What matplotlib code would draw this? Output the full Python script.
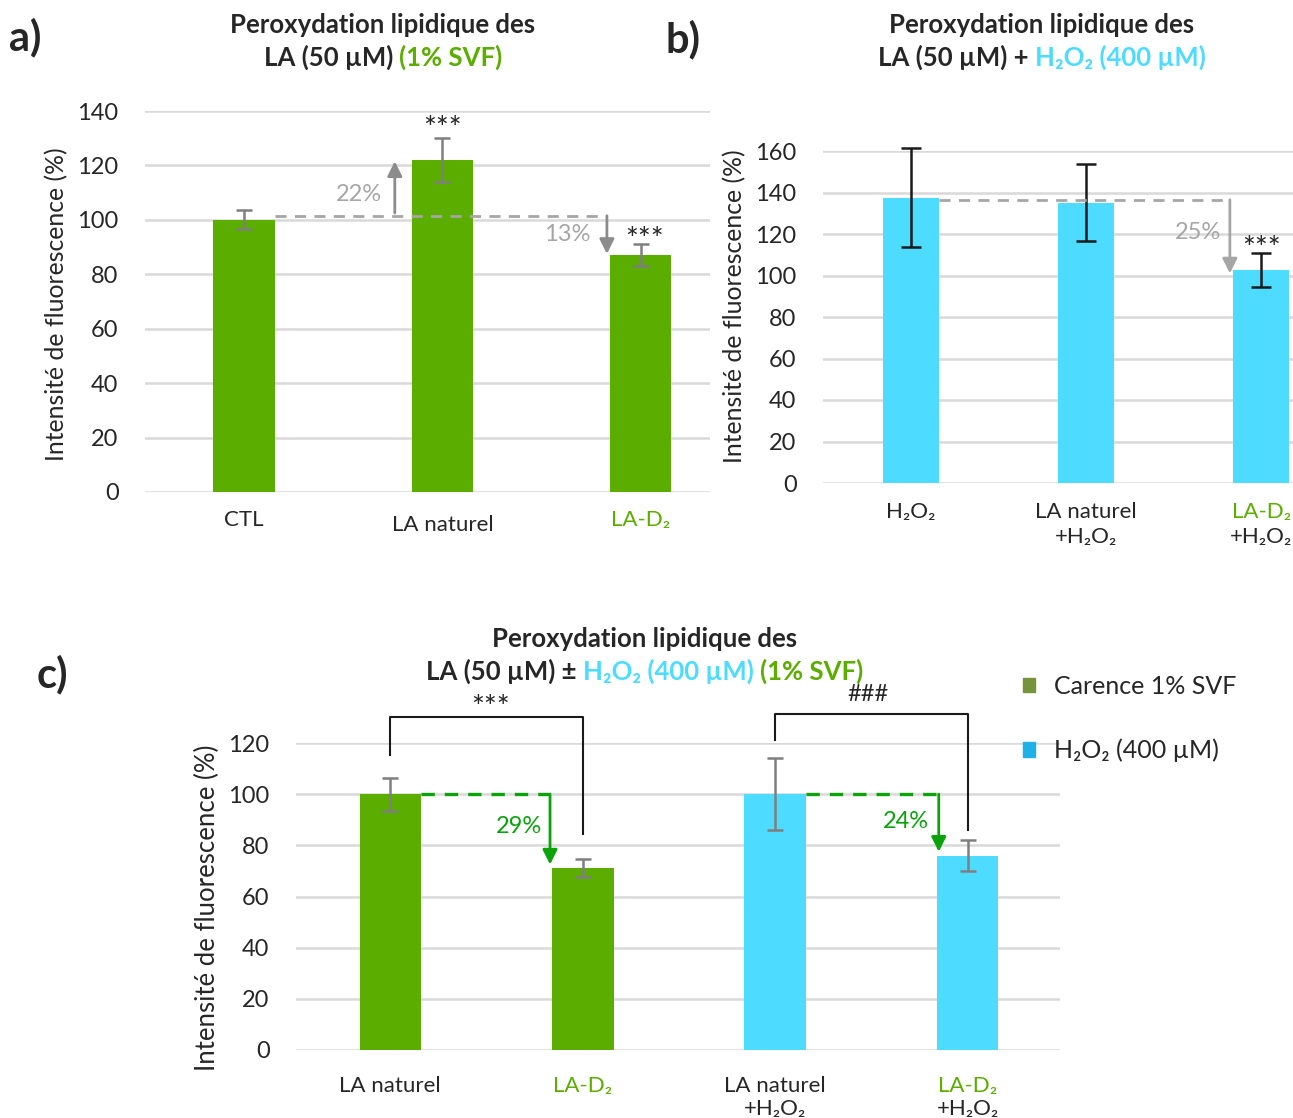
import matplotlib
matplotlib.use("Agg")
import matplotlib.pyplot as plt
from matplotlib.patches import Patch
import numpy as np

plt.rcParams['font.family'] = ['Lato', 'Noto Sans', 'DejaVu Sans']

# ---- data ----
a_labels = ["CTL", "LA naturel", "LA-D₂"]
a_values = [100, 122, 87]
a_errors = [3.5, 8, 4]

b_labels = ["H₂O₂", "LA naturel", "LA-D₂"]
b_labels2 = ["", "+H₂O₂", "+H₂O₂"]
b_values = [137.5, 135, 102.5]
b_errors = [24, 18.5, 8.2]

c_labels = ["LA naturel", "LA-D₂", "LA naturel", "LA-D₂"]
c_labels2 = ["", "", "+H₂O₂", "+H₂O₂"]
c_values = [100, 71, 100, 76]
c_errors = [6.5, 3.5, 14, 6]
c_series = ["Carence 1% SVF", "Carence 1% SVF", "H₂O₂ (400 µM)", "H₂O₂ (400 µM)"]

GREEN = '#5BAD00'
CYAN = '#4DDBFF'
DGREEN = '#0AA30A'
GRAY = '#A6A6A6'
GRID = '#D9D9D9'
TXT = '#262626'

W, H = 1293, 1118
fig = plt.figure(figsize=(W / 100, H / 100), dpi=100)


def ax_at(l, t, r, b):
    return fig.add_axes([l / W, 1 - b / H, (r - l) / W, (b - t) / H])


def style(ax, ymax, step, labels, colors, xpad, labels2=None, gap=30):
    ax.set_ylim(0, ymax)
    ax.set_yticks(np.arange(0, ymax + 1, step))
    ax.yaxis.grid(True, color=GRID, lw=1.8)
    ax.set_axisbelow(True)
    for s in ax.spines.values():
        s.set_visible(False)
    ax.tick_params(axis='y', length=0, pad=19, labelsize=17, labelcolor=TXT)
    ax.tick_params(axis='x', length=0, pad=xpad, labelsize=16, labelcolor=TXT)
    ax.set_xticks(range(len(labels)))
    ax.set_xticklabels(labels)
    for lab, c in zip(ax.get_xticklabels(), colors):
        lab.set_color(c)
    if labels2:
        for i, s in enumerate(labels2):
            ax.annotate(s, xy=(i, 0), xycoords=('data', 'axes fraction'),
                        xytext=(0, -(xpad + gap) * 0.72), textcoords='offset points',
                        ha='center', va='top', fontsize=16, color=TXT)


def title(xc, lines, size=18.5):
    fig.canvas.draw()
    r = fig.canvas.get_renderer()
    for y, parts in lines:
        ts = [fig.text(0, 1 - y / H, s, color=c, fontsize=size, fontweight='bold',
                       va='baseline', ha='left') for s, c in parts]
        ws = [t.get_window_extent(r).width for t in ts]
        x = xc - sum(ws) / 2
        for t, w in zip(ts, ws):
            t.set_x(x / W)
            x += w


def arrow(ax, x, y0, y1, color):
    ax.annotate('', xy=(x, y1), xytext=(x, y0),
                arrowprops=dict(arrowstyle='-|>', color=color, lw=2, mutation_scale=22,
                                shrinkA=0, shrinkB=0))


def errbars(ax, x, v, e, color, cap):
    eb = ax.errorbar(x, v, yerr=e, fmt='none', ecolor=color, elinewidth=1.8,
                     capsize=cap, capthick=1.8)
    for art in eb.lines[1] + eb.lines[2]:
        art.set_clip_on(False)


# ---- panel a ----
axa = ax_at(145, 111, 710, 492)
xa = np.arange(len(a_values))
axa.bar(xa, a_values, width=0.31, color=GREEN)
errbars(axa, xa, a_values, a_errors, '#7F7F7F', 6)
axa.set_xlim(-0.5, 2.35)
style(axa, 140, 20, a_labels, [TXT, TXT, GREEN], 13)
axa.get_xticklabels()[1].set_y(-0.012)
axa.plot([0.155, 1.83], [101.5, 101.5], color=GRAY, lw=2, dashes=(4, 3))
arrow(axa, 0.76, 102.5, 121.5, '#8C8C8C')
arrow(axa, 1.83, 101.5, 87.5, '#8C8C8C')
axa.text(0.58, 109.5, "22%", color=GRAY, fontsize=17, ha='center', va='center')
axa.text(1.63, 94.5, "13%", color=GRAY, fontsize=17, ha='center', va='center')
axa.text(1, 133.5, "***", color=TXT, fontsize=22, ha='center', va='center')
axa.text(2.02, 92.5, "***", color=TXT, fontsize=22, ha='center', va='center')
fig.text(57 / W, 1 - 304 / H, "Intensité de fluorescence (%)", rotation=90,
         ha='center', va='center', fontsize=17.8, color=TXT)

# ---- panel b ----
axb = ax_at(823, 151, 1293, 483)
xb = np.arange(len(b_values))
axb.bar(xb, b_values, width=0.32, color=CYAN)
errbars(axb, xb, b_values, b_errors, '#1A1A1A', 7)
axb.set_xlim(-0.5, 2.18)
style(axb, 160, 20, b_labels, [TXT, TXT, GREEN], 14, b_labels2, 30)
axb.plot([0.16, 1.82], [136.5, 136.5], color=GRAY, lw=2, dashes=(4, 3))
arrow(axb, 1.82, 136.5, 101, GRAY)
axb.text(1.64, 120.5, "25%", color=GRAY, fontsize=17, ha='center', va='center')
axb.text(2.0, 113, "***", color=TXT, fontsize=22, ha='center', va='center')
fig.text(735 / W, 1 - 306 / H, "Intensité de fluorescence (%)", rotation=90,
         ha='center', va='center', fontsize=17.8, color=TXT)

# ---- panel c ----
axc = ax_at(296, 743, 1060, 1050)
xc = np.arange(len(c_values))
c_colors = [GREEN if s.startswith("Carence") else CYAN for s in c_series]
axc.bar(xc, c_values, width=0.32, color=c_colors)
errbars(axc, xc, c_values, c_errors, '#7F7F7F', 6)
axc.set_xlim(-0.49, 3.48)
style(axc, 120, 20, c_labels, [TXT, GREEN, TXT, GREEN], 19, c_labels2, 30)
axc.plot([0.16, 0.83], [100, 100], color=DGREEN, lw=2.4, dashes=(4, 3))
axc.plot([2.16, 2.85], [100, 100], color=DGREEN, lw=2.4, dashes=(4, 3))
arrow(axc, 0.83, 100, 72.5, DGREEN)
arrow(axc, 2.85, 100, 77.5, DGREEN)
axc.text(0.67, 87.5, "29%", color=DGREEN, fontsize=17, ha='center', va='center')
axc.text(2.68, 89.5, "24%", color=DGREEN, fontsize=17, ha='center', va='center')
# significance brackets
axc.plot([0, 0, 1, 1], [115.5, 130, 130, 84.5], color='#1A1A1A', lw=1.5, clip_on=False)
axc.plot([2, 2, 3, 3], [121, 131.3, 131.3, 86], color='#1A1A1A', lw=1.5, clip_on=False)
axc.text(0.52, 133.5, "***", color=TXT, fontsize=22, ha='center', va='center')
axc.text(2.48, 139, "###", color=TXT, fontsize=17, ha='center', va='center')
fig.text(207 / W, 1 - 908 / H, "Intensité de fluorescence (%)", rotation=90,
         ha='center', va='center', fontsize=18.5, color=TXT)
handles = [Patch(color='#77933C', label="Carence 1% SVF"),
           Patch(color='#1FB0E6', label="H₂O₂ (400 µM)")]
fig.legend(handles=handles, loc='upper left', bbox_to_anchor=(1000 / W, 1 - 652 / H),
           frameon=False, fontsize=18, handlelength=0.5, handleheight=0.5,
           handletextpad=0.75, labelspacing=1.65, labelcolor=TXT)

# ---- titles and panel letters ----
title(383, [(33, [("Peroxydation lipidique des", TXT)]),
            (66, [("LA (50 µM) ", TXT), ("(1% SVF)", GREEN)])])
title(1042, [(33, [("Peroxydation lipidique des", TXT)]),
             (66, [("LA (50 µM) + ", TXT), ("H₂O₂ (400 µM)", CYAN)])])
title(645, [(647, [("Peroxydation lipidique des", TXT)]),
            (680, [("LA (50 µM) ± ", TXT), ("H₂O₂ (400 µM) ", CYAN), ("(1% SVF)", GREEN)])])
fig.text(9 / W, 1 - 50 / H, "a)", fontsize=30, fontweight='bold', color=TXT)
fig.text(666 / W, 1 - 52 / H, "b)", fontsize=30, fontweight='bold', color=TXT)
fig.text(37 / W, 1 - 687 / H, "c)", fontsize=30, fontweight='bold', color=TXT)

fig.savefig("out.png", dpi=100)
